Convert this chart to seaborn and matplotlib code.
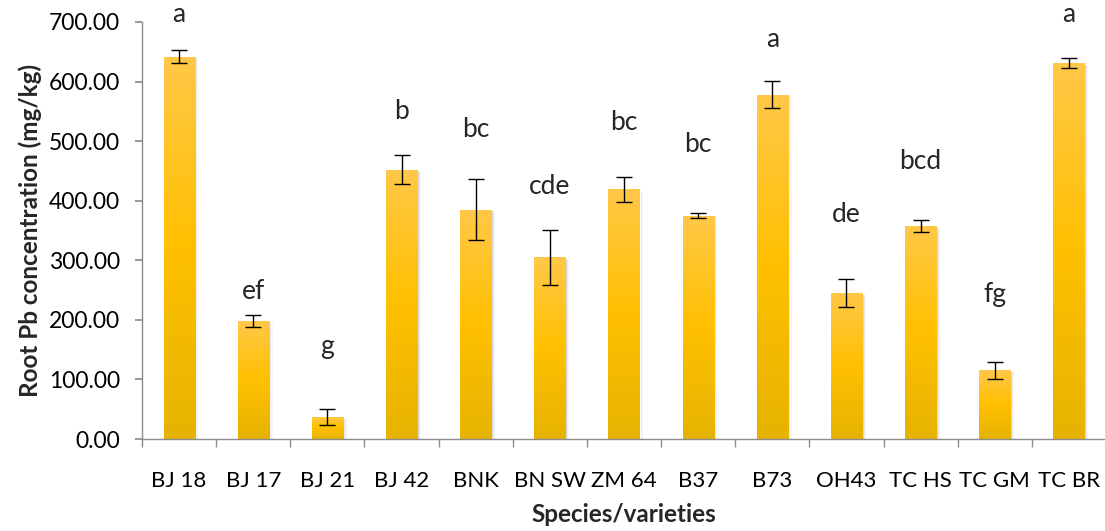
import numpy as np
import pandas as pd
import matplotlib
matplotlib.use("Agg")
import matplotlib.pyplot as plt
import seaborn as sns
from matplotlib.colors import LinearSegmentedColormap
from matplotlib.patches import Rectangle

# data
varieties = ["BJ 18", "BJ 17", "BJ 21", "BJ 42", "BNK", "BN SW", "ZM 64",
             "B37", "B73", "OH43", "TC HS", "TC GM", "TC BR"]
root_pb = [642, 198, 37, 452, 385, 305, 419, 375, 578, 245, 358, 115, 631]
err = [11, 10, 14, 24, 51, 46, 21, 4, 23, 23, 10, 15, 8]
letters = ["a", "ef", "g", "b", "bc", "cde", "bc", "bc", "a", "de", "bcd", "fg", "a"]
letter_y = [712, 248, 156, 549, 519, 424, 531, 494, 670, 377, 466, 243, 712]

df = pd.DataFrame({"variety": varieties, "pb": root_pb})

sns.set_theme(style="white")
plt.rcParams['font.family'] = ['Lato', 'DejaVu Sans']

fig = plt.figure(figsize=(11.05, 5.31), dpi=100)
ax = fig.add_axes([142 / 1105, 1 - 439 / 531, (1106 - 142) / 1105, (439 - 22) / 531])

sns.barplot(data=df, x="variety", y="pb", color="#FFC000", width=0.42,
            ax=ax, errorbar=None, saturation=1)

# gold gradient on each bar + soft shadow
cmap = LinearSegmentedColormap.from_list("gold", ["#E6B300", "#FFC000", "#FFC848"])
grad = np.linspace(0, 1, 256).reshape(-1, 1)
for p in list(ax.patches):
    x0, y0 = p.get_x(), p.get_y()
    w, h = p.get_width(), p.get_height()
    for k, a in enumerate([0.10, 0.06, 0.03]):
        sh = Rectangle((x0 + 0.02 + k * 0.015, y0), w, h - 3, color="black",
                       alpha=a, lw=0, zorder=1)
        ax.add_patch(sh)
    p.set_zorder(2)
    im = ax.imshow(grad, cmap=cmap, aspect="auto", origin="lower",
                   extent=[x0, x0 + w, y0, y0 + h], zorder=2.5)
    im.set_clip_path(p)

x = np.arange(len(varieties))
ax.errorbar(x, root_pb, yerr=err, fmt="none", ecolor="black", elinewidth=1,
            capsize=6, capthick=1, zorder=4)

for xi, lab, ly in zip(x, letters, letter_y):
    ax.text(xi, ly, lab, ha="center", va="center", fontsize=19, clip_on=False)

ax.set_xlim(-0.5, len(varieties) - 0.5)
ax.set_ylim(0, 700)
ax.set_yticks(np.arange(0, 701, 100))
ax.set_yticklabels([f"{v:.2f}" for v in np.arange(0, 701, 100)], fontsize=16.5)
ax.set_xticks(x)
ax.set_xticklabels(varieties, fontsize=16)
ax.set_xticks(np.arange(-0.5, len(varieties), 1), minor=True)

for s in ["top", "right"]:
    ax.spines[s].set_visible(False)
for s in ["left", "bottom"]:
    ax.spines[s].set_color("#8c8c8c")
    ax.spines[s].set_linewidth(1)

ax.tick_params(axis="y", which="major", left=True, length=5, color="#8c8c8c",
               pad=11, labelcolor="black")
ax.tick_params(axis="x", which="major", bottom=False, pad=17, labelcolor="black")
ax.tick_params(axis="x", which="minor", bottom=True, length=6, color="#8c8c8c")

ax.set_xlabel("Species/varieties", fontsize=17.5, fontweight="bold", labelpad=9)
ax.set_ylabel("Root Pb concentration (mg/kg)", fontsize=17.5, fontweight="bold",
              labelpad=5)

fig.savefig("out.png", dpi=100)
